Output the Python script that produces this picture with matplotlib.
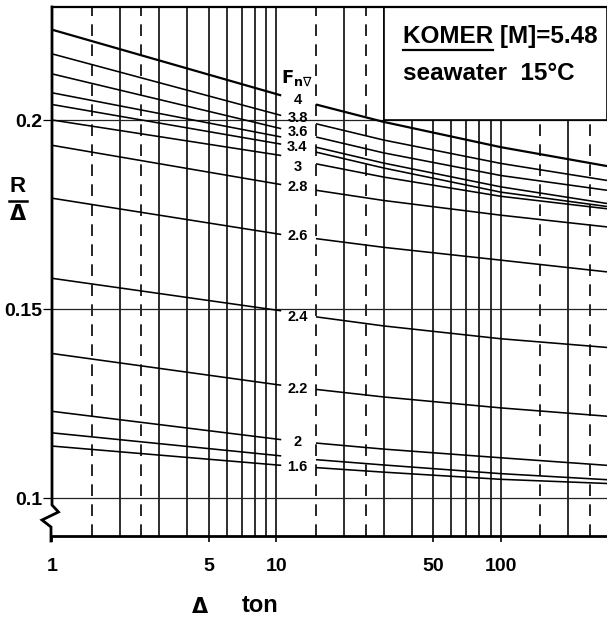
import matplotlib
matplotlib.use("Agg")
import matplotlib.pyplot as plt
from matplotlib.patches import Rectangle
from matplotlib.lines import Line2D

NUM_FONT = ["Liberation Sans", "DejaVu Sans"]

# displacement stations (ton) at which R/Δ is tabulated
disp_left = [1.0, 10.5]                 # left branch (before the label column)
disp_right = [15.0, 30.0, 100.0, 297.0]  # right branch

# R/Δ for each volumetric Froude number: 2 left-branch values, then 4 right-branch values
r_fn40 = [0.2240, 0.2066, 0.2042, 0.1996, 0.1929, 0.1879]
r_fn38 = [0.2176, 0.2013, 0.1991, 0.1948, 0.1886, 0.1841]
r_fn36 = [0.2123, 0.1978, 0.1956, 0.1914, 0.1854, 0.1815]
r_fn34 = [0.2073, 0.1956, 0.1929, 0.1887, 0.1824, 0.1780]
r_fn32 = [0.2042, 0.1937, 0.1916, 0.1874, 0.1810, 0.1772]
r_fn30 = [0.2001, 0.1907, 0.1885, 0.1850, 0.1799, 0.1766]
r_fn28 = [0.1934, 0.1830, 0.1815, 0.1788, 0.1749, 0.1718]
r_fn26 = [0.1794, 0.1698, 0.1687, 0.1664, 0.1630, 0.1599]
r_fn24 = [0.1582, 0.1496, 0.1480, 0.1456, 0.1422, 0.1399]
r_fn22 = [0.1383, 0.1299, 0.1288, 0.1268, 0.1239, 0.1217]
r_fn20 = [0.1230, 0.1155, 0.1146, 0.1130, 0.1107, 0.1087]
r_fn18 = [0.1173, 0.1112, 0.1102, 0.1088, 0.1065, 0.1049]
r_fn16 = [0.1138, 0.1087, 0.1081, 0.1069, 0.1050, 0.1039]

curves = [r_fn40, r_fn38, r_fn36, r_fn34, r_fn32, r_fn30, r_fn28,
          r_fn26, r_fn24, r_fn22, r_fn20, r_fn18, r_fn16]

# curve labels in the label column
fn_labels = ["4", "3.8", "3.6", "3.4", "3", "2.8", "2.6", "2.4", "2.2", "2", "1.6"]
fn_label_y = [0.2055, 0.2006, 0.1968, 0.1930, 0.1877, 0.1824, 0.1693,
              0.1479, 0.1288, 0.1149, 0.1083]

x_ticks = [1, 5, 10, 50, 100]
y_ticks = [0.1, 0.15, 0.2]
y_tick_labels = ["0.1", "0.15", "0.2"]

solid_grid = [2, 3, 4, 5, 6, 7, 8, 9, 10, 20, 30, 40, 50, 60, 70, 80, 90, 100, 200]
dashed_grid = [1.5, 2.5, 15, 25, 150, 250]

W, H = 607, 620
fig = plt.figure(figsize=(W / 100, H / 100), dpi=100)
ax_l, ax_b, ax_t = 52, 536, 7
ax = fig.add_axes([ax_l / W, 1 - ax_b / H, 1 - ax_l / W, (ax_b - ax_t) / H])
ax.set_xscale("log")
ax.set_xlim(1, 297)
ax.set_ylim(0.09, 0.23)

# grid
for v in solid_grid:
    ax.axvline(v, color="black", lw=1.15, zorder=1)
for v in dashed_grid:
    ax.axvline(v, color="black", lw=1.2, ls=(0, (7, 5)), zorder=1)
for v in y_ticks:
    ax.axhline(v, color="#222222", lw=0.9, zorder=1)

# title box in the upper right corner
ax.add_patch(Rectangle((30, 0.2), 297 - 30, 0.03, facecolor="white",
                       edgecolor="black", lw=1.2, zorder=2))

# curves, broken around the label column
for i, r in enumerate(curves):
    lw = 1.6 if i == 0 else 1.15
    ax.plot(disp_left, r[:2], color="black", lw=lw, zorder=3, solid_capstyle="butt")
    ax.plot(disp_right, r[2:], color="black", lw=lw, zorder=3, solid_capstyle="butt")

# labels
label_x = 12.4
for t, y in zip(fn_labels, fn_label_y):
    ax.text(label_x, y, t, ha="center", va="center", fontsize=10.5,
            fontweight="bold", family=NUM_FONT, zorder=4)
ax.text(label_x, 0.2111, r"$\mathbf{F}_{\mathbf{n}\nabla}$", ha="center",
        va="center", fontsize=13, zorder=4)

# axes styling
ax.spines["right"].set_visible(False)
ax.spines["left"].set_visible(False)
ax.spines["top"].set_linewidth(1.6)
ax.spines["bottom"].set_linewidth(2.0)

ax.set_xticks(x_ticks)
ax.set_xticklabels([str(v) for v in x_ticks])
ax.xaxis.set_minor_locator(matplotlib.ticker.NullLocator())
ax.set_yticks(y_ticks)
ax.set_yticklabels(y_tick_labels)
ax.tick_params(axis="x", direction="out", length=4, width=1.2, pad=12,
               labelsize=14)
ax.tick_params(axis="y", direction="out", length=6.5, width=0.9, pad=0.5,
               labelsize=14)
for lab in ax.get_xticklabels() + ax.get_yticklabels():
    lab.set_fontweight("bold")
    lab.set_family(NUM_FONT)

# left axis with break symbol
zig = [(52, 7), (52, 505), (58.5, 512), (42, 520), (51, 527), (51, 541)]
fig.add_artist(Line2D([p[0] / W for p in zig], [1 - p[1] / H for p in zig],
                      transform=fig.transFigure, color="black", lw=2.0,
                      solid_joinstyle="miter"))

# axis titles
fig.text(18 / W, 1 - 186 / H, "R", ha="center", va="center", fontsize=16,
         fontweight="bold", family=NUM_FONT)
fig.add_artist(Line2D([9 / W, 27 / W], [1 - 201 / H, 1 - 201 / H],
                      transform=fig.transFigure, color="black", lw=1.8))
fig.text(18 / W, 1 - 214 / H, "Δ", ha="center", va="center", fontsize=15,
         fontweight="bold", family=["DejaVu Sans"])
fig.text(200 / W, 1 - 607 / H, "Δ", ha="center", va="center", fontsize=15,
         fontweight="bold", family=["DejaVu Sans"])
fig.text(260 / W, 1 - 606 / H, "ton", ha="center", va="center", fontsize=17,
         fontweight="bold", family=NUM_FONT)

# box text
t1 = fig.text(403 / W, 1 - 37 / H, "KOMER [M]=5.48", ha="left", va="center",
              fontsize=17.5, fontweight="bold", family=NUM_FONT, zorder=5)
t2 = fig.text(403 / W, 1 - 73 / H, "seawater  15°C", ha="left", va="center",
              fontsize=17.5, fontweight="bold", family=NUM_FONT, zorder=5)
tmp = fig.text(403 / W, 1 - 37 / H, "KOMER", ha="left", va="center",
               fontsize=17.5, fontweight="bold", family=NUM_FONT)
fig.canvas.draw()
bb = tmp.get_window_extent()
tmp.remove()
fig.add_artist(Line2D([bb.x0 / W, bb.x1 / W], [(bb.y0 - 1) / H, (bb.y0 - 1) / H],
                      transform=fig.transFigure, color="black", lw=1.6))

fig.savefig("out.png", dpi=100)
